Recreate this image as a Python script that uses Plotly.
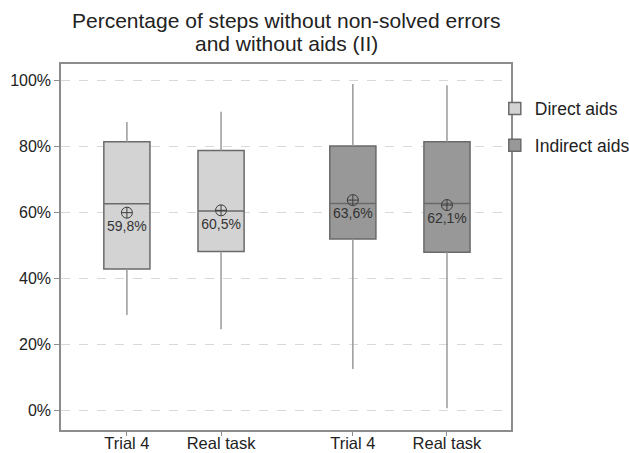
import plotly.graph_objects as go

# ---- data (percent) ----
categories = ["Trial 4", "Real task"]
groups = ["Direct aids", "Indirect aids"]

direct_lower = [28.8, 24.5]
direct_q1 = [42.7, 48.0]
direct_median = [62.5, 60.3]
direct_q3 = [81.3, 78.6]
direct_upper = [87.3, 90.4]
direct_mean = [59.8, 60.5]

indirect_lower = [12.4, 0.5]
indirect_q1 = [51.8, 47.8]
indirect_median = [62.6, 62.6]
indirect_q3 = [80.0, 81.3]
indirect_upper = [98.8, 98.4]
indirect_mean = [63.6, 62.1]

y_ticks = [0, 20, 40, 60, 80, 100]

# ---- styles ----
FONT = "Liberation Sans, Arial, sans-serif"
fills = ["#d3d3d3", "#989898"]
box_line = "#6a6a6a"
whisker_col = "#9a9a9a"
group_gap = 2.4  # distance between group starts in axis units

series = [
    (direct_lower, direct_q1, direct_median, direct_q3, direct_upper, direct_mean),
    (indirect_lower, indirect_q1, indirect_median, indirect_q3, indirect_upper, indirect_mean),
]

fig = go.Figure()
tickvals, ticktext = [], []
for gi, (lo, q1, med, q3, up, mean) in enumerate(series):
    xs = [1 + gi * group_gap + i for i in range(len(categories))]
    tickvals += xs
    ticktext += categories
    # whiskers
    wx, wy = [], []
    for x, a, b, c, d in zip(xs, lo, q1, q3, up):
        wx += [x, x, None, x, x, None]
        wy += [a, b, None, c, d, None]
    fig.add_trace(go.Scatter(x=wx, y=wy, mode="lines", showlegend=False,
                             line=dict(color=whisker_col, width=1.5), hoverinfo="skip"))
    # boxes
    fig.add_trace(go.Box(
        x=xs, q1=q1, median=med, q3=q3, lowerfence=q1, upperfence=q3,
        name=groups[gi], legendgroup=groups[gi],
        fillcolor=fills[gi], line=dict(color=box_line, width=1.5),
        width=0.49, whiskerwidth=0, boxpoints=False,
    ))
    # means
    fig.add_trace(go.Scatter(
        x=xs, y=mean, mode="markers+text", showlegend=False,
        marker=dict(symbol="circle-cross-open", size=11, color="#3c3c3c", line=dict(width=1)),
        text=[f"{m:.1f}".replace(".", ",") + "%" for m in mean],
        textposition="bottom center",
        textfont=dict(family=FONT, size=14, color="#333333"),
    ))

ph = 453 - 64 - 23
fig.update_layout(
    width=629, height=453,
    margin=dict(l=61, r=118, t=64, b=23, autoexpand=False),
    paper_bgcolor="white", plot_bgcolor="white",
    font=dict(family=FONT, color="#222222"),
    showlegend=True,
    legend=dict(x=0.964, xanchor="left", y=0.927, yanchor="top",
                font=dict(family=FONT, size=17.5, color="#222222"),
                tracegroupgap=11, bgcolor="rgba(0,0,0,0)"),
    annotations=[
        dict(text="Percentage of steps without non-solved errors", x=0.5, xref="paper",
             y=1 + (64 - 21) / ph, yref="paper", showarrow=False, yanchor="middle",
             font=dict(size=21, family=FONT, color="#222222")),
        dict(text="and without aids (II)", x=0.5, xref="paper",
             y=1 + (64 - 44) / ph, yref="paper", showarrow=False, yanchor="middle",
             font=dict(size=21, family=FONT, color="#222222")),
    ],
)

fig.update_xaxes(
    type="linear", range=[0.3, 5.08], tickvals=tickvals, ticktext=ticktext, tickangle=0,
    showgrid=False, zeroline=False, ticks="outside", ticklen=4, tickcolor="#8c8c8c",
    showline=True, linecolor="#8c8c8c", linewidth=1.5, mirror=True,
    tickfont=dict(family=FONT, size=16.5, color="#222222"), automargin=False,
    ticklabelstandoff=-7,
)
fig.update_yaxes(
    type="linear", range=[-6.06, 104.85], tickvals=y_ticks,
    ticktext=[f"{v}%" for v in y_ticks],
    showgrid=True, gridcolor="#d9d9d9", griddash="dash", gridwidth=1,
    zeroline=False, ticks="outside", ticklen=5, tickcolor="#8c8c8c",
    showline=True, linecolor="#8c8c8c", linewidth=1.5, mirror=True,
    tickfont=dict(family=FONT, size=16, color="#222222"), automargin=False,
)

fig.write_html("out.html")
